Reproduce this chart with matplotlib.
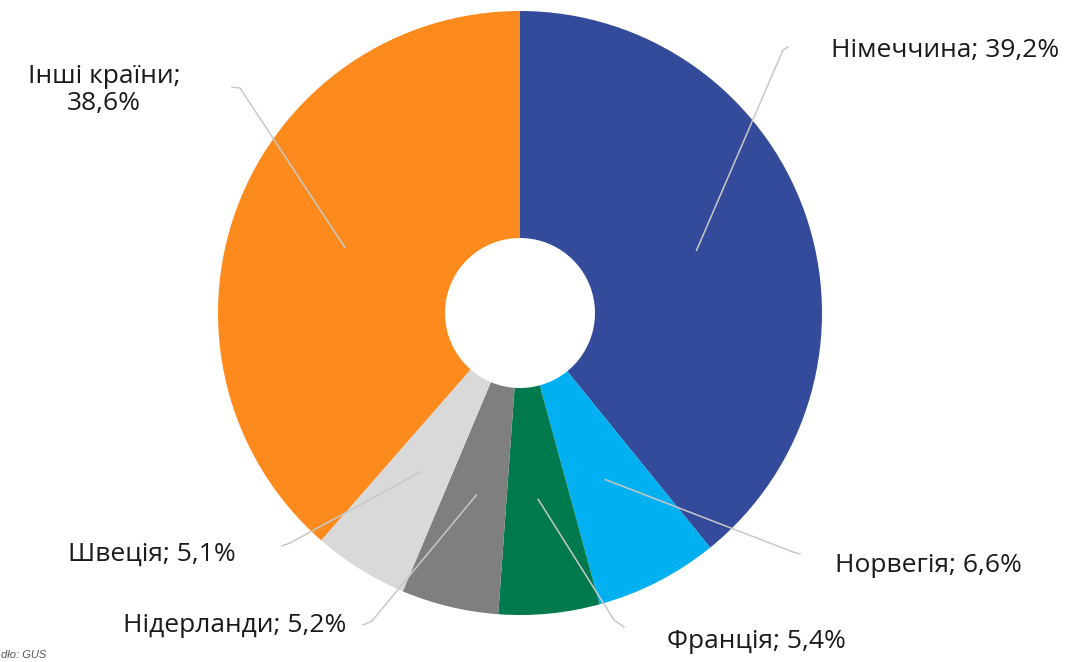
import numpy as np
import matplotlib.pyplot as plt

# dane: eksport wg krajow (%)
kraje = ['Німеччина', 'Норвегія', 'Франція', 'Нідерланди', 'Швеція', 'Інші країни']
udzial = [39.2, 6.6, 5.4, 5.2, 5.1, 38.6]
kolory = ['#344a9a', '#00b0f0', '#00794c', '#7f7f7f', '#d9d9d9', '#fd8a1d']

plt.rcParams['font.family'] = ['Open Sans', 'DejaVu Sans']

W, H = 1074, 662
CX, CY, R = 520, 313, 302

def px(x, y):
    # piksele -> wspolrzedne osi
    return (x - CX) / R, (CY - y) / R

fig = plt.figure(figsize=(W / 100, H / 100), dpi=100)
ax = fig.add_axes([0, 0, 1, 1])

wedges, _ = ax.pie(udzial, colors=kolory, startangle=90, counterclock=False,
                   radius=1, wedgeprops=dict(width=1 - 75 / R, linewidth=0))

ax.set_xlim(px(0, 0)[0], px(W, 0)[0])
ax.set_ylim(px(0, H)[1], px(0, 0)[1])
ax.set_aspect('equal')
ax.axis('off')

# pozycje etykiet (px): lokalizacja, wyrownanie, koniec linii (lamanie, koniec)
etykiety = [
    ((831, 50), 'left', (783, 50), (788, 47)),
    ((835, 566), 'left', (793, 552), (800, 554)),
    ((667, 641), 'left', (614, 620), (624, 627)),
    ((346, 626), 'right', (372, 621), (363, 625)),
    ((236, 554), 'right', (290, 543), (282, 546)),
    ((104, 90), 'center', (240, 88), (232, 87)),
]

for w, nazwa, val, (pos, ha, lam, kon) in zip(wedges, kraje, udzial, etykiety):
    kat = np.deg2rad((w.theta1 + w.theta2) / 2)
    x0, y0 = 0.62 * np.cos(kat), 0.62 * np.sin(kat)
    x1, y1 = px(*lam)
    x2, y2 = px(*kon)
    ax.plot([x0, x1, x2], [y0, y1, y2], color='#c8c8c8', lw=1.1, zorder=3)
    tekst = f'{nazwa}; {str(val).replace(".", ",")}%'
    if nazwa == 'Інші країни':
        tekst = tekst.replace('; ', ';\n')
    tx, ty = px(*pos)
    ax.text(tx, ty, tekst, ha=ha, va='center', fontsize=19, color='#1a1a1a',
            multialignment='center', linespacing=1.15)

# zrodlo (w oryginale uciete z lewej)
sx, sy = px(1, 655)
ax.text(sx, sy, 'dło: GUS', ha='left', va='center', fontsize=8,
        style='italic', color='#555555', family=['Liberation Sans', 'DejaVu Sans'])

fig.savefig('out.png', dpi=100)
